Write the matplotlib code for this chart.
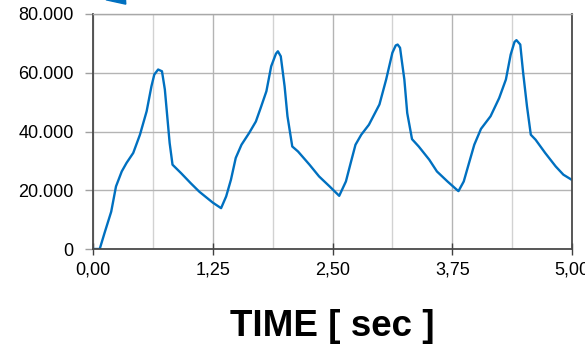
import matplotlib.pyplot as plt
from matplotlib.ticker import FuncFormatter, MultipleLocator
from matplotlib.patches import FancyArrow

plt.rcParams['font.family'] = ['Liberation Sans', 'DejaVu Sans']

# time [s] and signal values
t = [0.00, 0.07, 0.12, 0.19, 0.24, 0.30, 0.35, 0.42, 0.49, 0.56, 0.61, 0.64, 0.68,
     0.72, 0.75, 0.80, 0.83, 0.92, 1.02, 1.11, 1.25, 1.337,
     1.39, 1.44, 1.49, 1.55, 1.63, 1.70, 1.75, 1.81, 1.86, 1.91, 1.93, 1.96,
     2.00, 2.03, 2.08, 2.14, 2.26, 2.36, 2.47, 2.57,
     2.64, 2.69, 2.74, 2.80, 2.88, 2.99, 3.06, 3.125, 3.16, 3.18, 3.205,
     3.25, 3.28, 3.33, 3.40, 3.51, 3.59, 3.70, 3.80, 3.815,
     3.87, 3.92, 3.98, 4.05, 4.15, 4.24, 4.31, 4.36, 4.40, 4.42, 4.46,
     4.49, 4.53, 4.57, 4.62, 4.72, 4.83, 4.91, 5.00]
y = [0, 0, 5400, 12700, 21300, 26400, 29300, 32700, 38900, 46900, 55400, 59400, 61100,
     60500, 54300, 36100, 28700, 25800, 22400, 19500, 15800, 13900,
     17900, 23600, 31000, 35500, 39500, 43400, 48000, 53700, 62200, 66500, 67300, 65600,
     55400, 45200, 34900, 33200, 28700, 24700, 21300, 18100,
     23000, 29300, 35500, 38900, 42300, 49200, 57700, 66800, 69300, 69600, 68500,
     57700, 46300, 37400, 34900, 30400, 26400, 23000, 20100, 19700,
     23000, 28700, 35500, 40900, 45200, 51400, 57700, 66200, 70500, 71100, 69600,
     60000, 48600, 38900, 37200, 32700, 28100, 25300, 23500]

xticks = [0.0, 1.25, 2.5, 3.75, 5.0]
yticks = [0, 20000, 40000, 60000, 80000]

fig = plt.figure(figsize=(5.85, 3.45), dpi=100)
ax = fig.add_axes([93 / 585, 1 - 249 / 345, 479 / 585, 235 / 345])

ax.plot(t, y, color='#0070C0', linewidth=1.7, solid_joinstyle='round')

ax.set_xlim(0, 5)
ax.set_ylim(0, 80000)
ax.set_xticks(xticks)
ax.xaxis.set_minor_locator(MultipleLocator(0.625))
ax.set_yticks(yticks)
ax.xaxis.set_major_formatter(FuncFormatter(lambda v, p: f"{v:.2f}".replace('.', ',')))
ax.yaxis.set_major_formatter(FuncFormatter(lambda v, p: f"{int(v):,}".replace(',', '.')))

ax.grid(which='major', color='#b4b4b4', linewidth=1.0)
ax.grid(which='minor', axis='x', color='#d2d2d2', linewidth=1.0)
ax.set_axisbelow(True)

ax.tick_params(axis='x', which='major', direction='inout', length=8, width=1,
               color='#404040', labelsize=13, pad=5)
ax.tick_params(axis='x', which='minor', length=0)
ax.tick_params(axis='y', direction='out', length=6, width=1, color='#a0a0a0',
               labelsize=13, pad=8)

for side in ['left', 'bottom', 'right']:
    ax.spines[side].set_color('#4a4a4a')
    ax.spines[side].set_linewidth(1.3)
ax.spines['top'].set_color('#a8a8a8')
ax.spines['top'].set_linewidth(1.0)

ax.set_xlabel('TIME [ sec ]', fontsize=26.5, fontweight='bold', labelpad=22)

# clipped arrow pointing into the plot from above
fig.patches.append(FancyArrow(0.17, 1.05, 0.045, -0.062, width=0.014,
                              head_width=0.04, head_length=0.03,
                              length_includes_head=True, color='#0070C0',
                              transform=fig.transFigure, figure=fig))

fig.savefig('out.png', dpi=100)
